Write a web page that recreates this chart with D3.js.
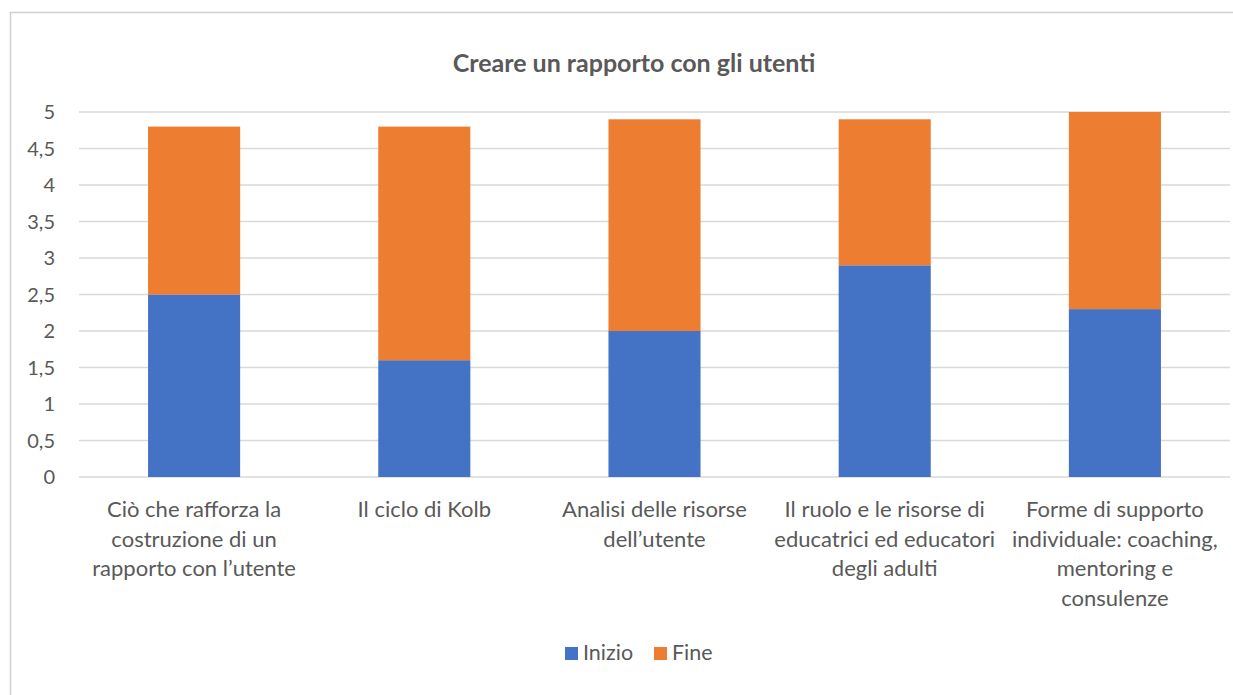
<!DOCTYPE html>
<html><head><meta charset="utf-8">
<script src="https://cdn.jsdelivr.net/npm/d3@7"></script>
<style>body{margin:0;background:#fff}svg{display:block}text{font-family:Lato,"Open Sans",sans-serif;fill:#595959}</style>
</head><body>
<svg id="c" width="1233" height="695"></svg>
<script>
const categories = [
  ["Ciò che rafforza la","costruzione di un","rapporto con l’utente"],
  ["Il ciclo di Kolb"],
  ["Analisi delle risorse","dell’utente"],
  ["Il ruolo e le risorse di","educatrici ed educatori","degli adulti"],
  ["Forme di supporto","individuale: coaching,","mentoring e","consulenze"]
];
const inizio = [2.5, 1.6, 2.0, 2.9, 2.3];
const fine = [2.3, 3.2, 2.9, 2.0, 2.7];
const yTicks = [0,0.5,1,1.5,2,2.5,3,3.5,4,4.5,5];
const tickLabels = ["0","0,5","1","1,5","2","2,5","3","3,5","4","4,5","5"];
const seriesNames = ["Inizio","Fine"];
const colors = ["#4472C4","#ED7D31"];

const svg = d3.select("#c");
svg.append("rect").attr("x",10.5).attr("y",12.5).attr("width",1300).attr("height",760)
  .attr("fill","none").attr("stroke","#D0D0D0").attr("stroke-width",1.5);

const x = d3.scaleBand().domain(d3.range(categories.length)).range([79,1230]).paddingInner(0.6).paddingOuter(0.3);
const y = d3.scaleLinear().domain([0,5]).range([477,112]);

svg.append("text").attr("x",634).attr("y",72).attr("text-anchor","middle")
  .style("font-size","25px").style("font-weight","bold").text("Creare un rapporto con gli utenti");

// gridlines
svg.append("g").selectAll("line").data(yTicks).join("line")
  .attr("x1",79).attr("x2",1230).attr("y1",d=>y(d)).attr("y2",d=>y(d))
  .attr("stroke","#D9D9D9").attr("stroke-width",1.3);

svg.append("g").selectAll("text").data(yTicks).join("text")
  .attr("x",55).attr("y",d=>y(d)).attr("dy","0.36em").attr("text-anchor","end")
  .style("font-size","20px").text((d,i)=>tickLabels[i]);

const stackData = categories.map((c,i)=>({i, Inizio:inizio[i], Fine:fine[i]}));
const stacked = d3.stack().keys(seriesNames)(stackData);
svg.append("g").selectAll("g").data(stacked).join("g").attr("fill",(d,i)=>colors[i])
  .selectAll("rect").data(d=>d).join("rect")
  .attr("x",d=>x(d.data.i)).attr("width",x.bandwidth())
  .attr("y",d=>y(d[1])).attr("height",d=>y(d[0])-y(d[1]));

// category labels
const cl = svg.append("g");
categories.forEach((lines,i)=>{
  const t = cl.append("text").attr("text-anchor","middle").style("font-size","22px");
  lines.forEach((l,j)=>t.append("tspan").attr("x",x(i)+x.bandwidth()/2).attr("y",517+j*29.5).text(l));
});

// legend
const lg = svg.append("g");
const lx = [565,654];
seriesNames.forEach((s,i)=>{
  lg.append("rect").attr("x",lx[i]).attr("y",647).attr("width",13).attr("height",13).attr("fill",colors[i]);
  lg.append("text").attr("x",lx[i]+18).attr("y",660).style("font-size","21.5px").text(s);
});
</script>
</body></html>
